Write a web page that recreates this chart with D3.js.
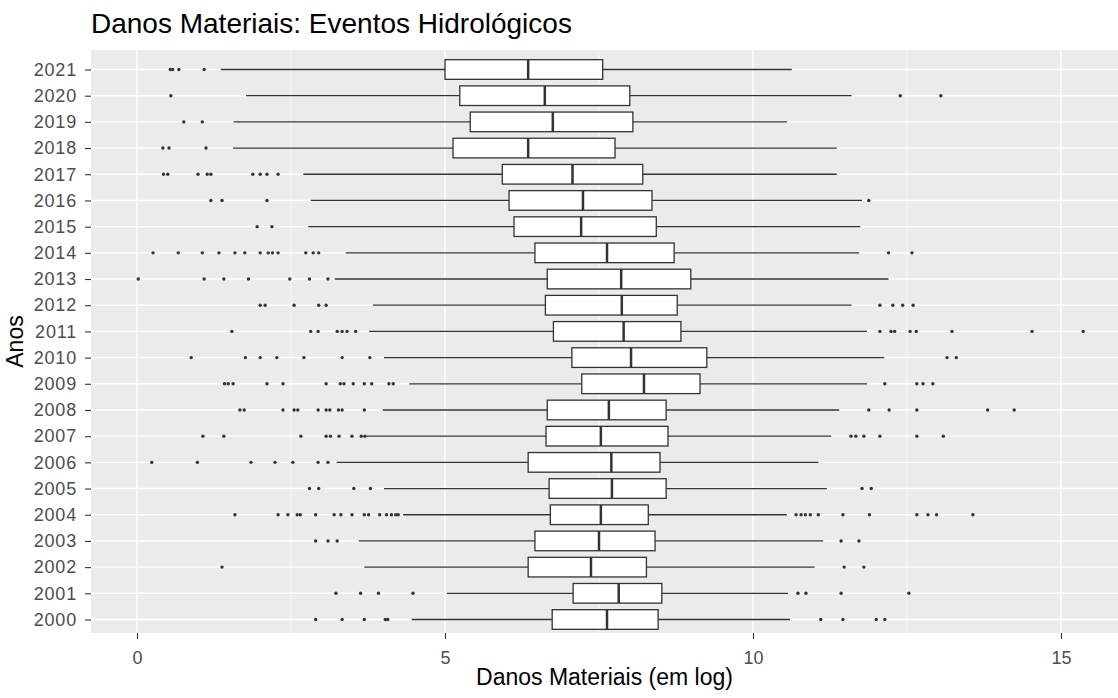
<!DOCTYPE html>
<html>
<head>
<meta charset="utf-8">
<script src="https://cdn.jsdelivr.net/npm/d3@7"></script>
<style>
  body { margin: 0; background: #fff; }
  text { font-family: "Liberation Sans", Arial, sans-serif; }
</style>
</head>
<body>
<div id="chart"></div>
<script>
const years = d3.range(2000, 2022);

const whiskerLow = [4.46, 5.03, 3.69, 3.6, 4.32, 4.01, 3.24, 3.73, 3.99, 4.42, 4.01,
  3.77, 3.83, 3.21, 3.39, 2.78, 2.82, 2.7, 1.56, 1.57, 1.77, 1.36];
const q1 = [6.74, 7.08, 6.35, 6.46, 6.71, 6.69, 6.35, 6.64, 6.66, 7.22, 7.06,
  6.76, 6.63, 6.66, 6.46, 6.12, 6.04, 5.93, 5.13, 5.41, 5.24, 5.0];
const median = [7.63, 7.82, 7.37, 7.5, 7.53, 7.71, 7.7, 7.53, 7.66, 8.23, 8.02,
  7.9, 7.87, 7.86, 7.63, 7.21, 7.24, 7.07, 6.35, 6.75, 6.62, 6.35];
const q3 = [8.46, 8.52, 8.27, 8.41, 8.3, 8.59, 8.49, 8.62, 8.59, 9.14, 9.25,
  8.83, 8.77, 8.99, 8.72, 8.43, 8.36, 8.21, 7.76, 8.05, 8.0, 7.56];
const whiskerHigh = [10.6, 10.57, 11.0, 11.14, 10.55, 11.2, 11.06, 11.27, 11.4, 11.85, 12.13,
  11.85, 11.6, 12.2, 11.72, 11.74, 11.77, 11.36, 11.36, 10.55, 11.6, 10.63];
const outliers = [
  [2.9, 3.33, 3.69, 4.03, 4.07, 11.1, 11.46, 12.0, 12.14],
  [3.23, 3.63, 3.92, 4.48, 10.73, 10.86, 11.43, 12.53],
  [1.38, 11.48, 11.8],
  [2.9, 3.1, 3.25, 11.43, 11.72],
  [1.59, 2.29, 2.45, 2.6, 2.65, 2.9, 3.2, 3.31, 3.49, 3.69, 3.76, 3.94, 4.05, 4.13, 4.2, 4.24,
    10.7, 10.78, 10.85, 10.93, 11.06, 11.46, 11.89, 12.66, 12.84, 12.98, 13.57],
  [2.8, 2.95, 3.52, 3.79, 11.77, 11.92],
  [0.24, 0.98, 1.85, 2.24, 2.53, 2.94, 3.1],
  [1.07, 1.41, 2.66, 3.07, 3.14, 3.28, 3.49, 3.64, 3.7, 11.59, 11.67, 11.8, 12.06, 12.66, 13.09],
  [1.67, 1.74, 2.37, 2.55, 2.61, 2.94, 3.07, 3.13, 3.27, 3.33, 3.69, 11.88, 12.21, 12.66, 13.81, 14.24],
  [1.42, 1.48, 1.56, 2.11, 2.37, 3.07, 3.3, 3.36, 3.51, 3.69, 3.81, 4.09, 4.16, 12.14, 12.66, 12.76, 12.92],
  [0.88, 1.76, 2.0, 2.27, 2.71, 3.33, 3.78, 13.15, 13.3],
  [1.54, 2.82, 2.94, 3.25, 3.33, 3.41, 3.55, 12.06, 12.24, 12.3, 12.55, 12.65, 13.23, 14.53, 15.36],
  [2.0, 2.08, 2.55, 2.95, 3.07, 12.06, 12.27, 12.43, 12.6],
  [0.02, 1.09, 1.41, 1.81, 2.48, 2.8, 3.1],
  [0.26, 0.67, 1.06, 1.33, 1.59, 1.75, 2.0, 2.13, 2.2, 2.29, 2.74, 2.86, 2.95, 12.2, 12.58],
  [1.95, 2.19],
  [1.2, 1.38, 2.11, 11.88],
  [0.43, 0.5, 0.99, 1.14, 1.2, 1.88, 2.0, 2.11, 2.29],
  [0.42, 0.52, 1.12],
  [0.76, 1.06],
  [0.55, 12.39, 13.05],
  [0.54, 0.58, 0.68, 1.09]
];
const xTicks = [0, 5, 10, 15];
const xMinor = [2.5, 7.5, 12.5];

const width = 1118, height = 698;
const panel = { left: 91, top: 50, right: 1118, bottom: 633 };

const svg = d3.select("#chart")
  .append("svg")
  .attr("width", width)
  .attr("height", height);

const x = d3.scaleLinear()
  .domain([0, 15])
  .range([137, 1061]);

// 2021 on top, 2000 at the bottom
const y = d3.scalePoint()
  .domain(years.slice().reverse().map(String))
  .range([69.5, 619.5]);

const boxH = y.step() * 0.75;
const cy = yr => y(String(yr));

svg.append("rect")
  .attr("x", panel.left)
  .attr("y", panel.top)
  .attr("width", panel.right - panel.left)
  .attr("height", panel.bottom - panel.top)
  .attr("fill", "#EBEBEB");

const grid = svg.append("g");

grid.selectAll(".minor")
  .data(xMinor)
  .join("line")
  .attr("x1", d => x(d)).attr("x2", d => x(d))
  .attr("y1", panel.top).attr("y2", panel.bottom)
  .attr("stroke", "#fff")
  .attr("stroke-width", 0.7);

grid.selectAll(".major")
  .data(xTicks)
  .join("line")
  .attr("x1", d => x(d)).attr("x2", d => x(d))
  .attr("y1", panel.top).attr("y2", panel.bottom)
  .attr("stroke", "#fff")
  .attr("stroke-width", 1.4);

grid.selectAll(".hmajor")
  .data(years)
  .join("line")
  .attr("x1", panel.left).attr("x2", panel.right)
  .attr("y1", d => cy(d)).attr("y2", d => cy(d))
  .attr("stroke", "#fff")
  .attr("stroke-width", 1.4);

// boxplots
const boxes = svg.append("g");

years.forEach((yr, i) => {
  const c = cy(yr);
  const g = boxes.append("g");

  g.append("line")
    .attr("x1", x(whiskerLow[i])).attr("x2", x(q1[i]))
    .attr("y1", c).attr("y2", c)
    .attr("stroke", "#333")
    .attr("stroke-width", 1.3);

  g.append("line")
    .attr("x1", x(q3[i])).attr("x2", x(whiskerHigh[i]))
    .attr("y1", c).attr("y2", c)
    .attr("stroke", "#333")
    .attr("stroke-width", 1.3);

  g.append("rect")
    .attr("x", x(q1[i]))
    .attr("y", c - boxH / 2)
    .attr("width", x(q3[i]) - x(q1[i]))
    .attr("height", boxH)
    .attr("fill", "#fff")
    .attr("stroke", "#333")
    .attr("stroke-width", 1.3);

  g.append("line")
    .attr("x1", x(median[i])).attr("x2", x(median[i]))
    .attr("y1", c - boxH / 2).attr("y2", c + boxH / 2)
    .attr("stroke", "#333")
    .attr("stroke-width", 2.5);

  g.selectAll("circle")
    .data(outliers[i])
    .join("circle")
    .attr("cx", d => x(d))
    .attr("cy", c)
    .attr("r", 1.7)
    .attr("fill", "#333");
});

// axes
const xAxis = d3.axisBottom(x)
  .tickValues(xTicks)
  .tickSize(6)
  .tickPadding(12);

const xg = svg.append("g")
  .attr("transform", `translate(0, ${panel.bottom})`)
  .call(xAxis);
xg.select(".domain").remove();
xg.selectAll("line").attr("stroke", "#333").attr("stroke-width", 1.1);
xg.selectAll("text")
  .attr("fill", "#4D4D4D")
  .style("font-size", "18px")
  .style("font-family", "'Liberation Sans', Arial, sans-serif");

const yAxis = d3.axisLeft(y)
  .tickSize(6)
  .tickPadding(8);

const yg = svg.append("g")
  .attr("transform", `translate(${panel.left}, 0)`)
  .call(yAxis);
yg.select(".domain").remove();
yg.selectAll("line").attr("stroke", "#333").attr("stroke-width", 1.1);
yg.selectAll("text")
  .attr("fill", "#4D4D4D")
  .style("font-size", "18px")
  .style("letter-spacing", "0.8px")
  .style("font-family", "'Liberation Sans', Arial, sans-serif");

svg.append("text")
  .attr("x", panel.left)
  .attr("y", 33)
  .style("font-size", "28px")
  .attr("fill", "#000")
  .text("Danos Materiais: Eventos Hidrológicos");

svg.append("text")
  .attr("x", (panel.left + panel.right) / 2)
  .attr("y", 685)
  .attr("text-anchor", "middle")
  .style("font-size", "23px")
  .attr("fill", "#000")
  .text("Danos Materiais (em log)");

svg.append("text")
  .attr("transform", "rotate(-90)")
  .attr("x", -(panel.top + panel.bottom) / 2)
  .attr("y", 23)
  .attr("text-anchor", "middle")
  .style("font-size", "23px")
  .attr("fill", "#000")
  .text("Anos");
</script>
</body>
</html>
